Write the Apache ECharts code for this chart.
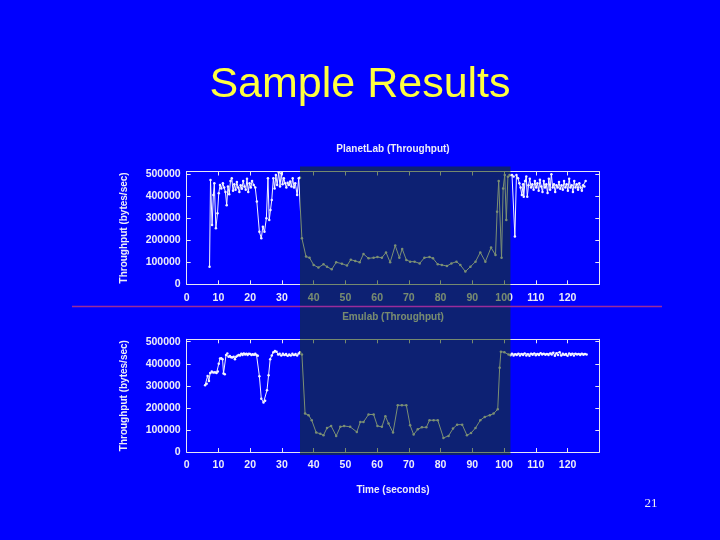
<!DOCTYPE html>
<html>
<head>
<meta charset="utf-8">
<script src="https://cdn.jsdelivr.net/npm/echarts@6/dist/echarts.min.js"></script>
<style>
html,body{margin:0;padding:0;background:#0000ff;}
#main{width:720px;height:540px;}
</style>
</head>
<body>
<div id="main"></div>
<script>
// PlanetLab throughput (time in seconds, bytes/sec)
var planetTime = [7.2,7.5,8.0,8.4,8.7,9.2,9.7,10.1,10.5,10.9,11.4,11.8,12.2,12.6,13.0,13.4,13.8,14.2,14.6,15.0,15.4,15.8,16.2,16.6,17.0,17.4,17.8,18.2,18.6,19.0,19.4,19.8,20.2,20.6,21.1,21.6,22.1,22.9,23.5,24.0,24.5,25.1,25.6,26.0,26.4,26.8,27.3,27.7,28.1,28.5,29.0,29.4,29.8,30.2,30.6,31.0,31.4,31.8,32.2,32.6,33.0,33.4,33.8,34.2,34.8,35.3,35.7,
  36.3,37.6,38.7,40.0,41.5,43.1,44.2,45.7,47.1,48.9,50.5,51.7,53.1,54.5,55.7,57.3,58.9,60.1,61.5,62.8,64.1,65.7,67.0,67.9,69.2,70.4,71.8,73.4,74.9,76.5,77.6,79.1,80.4,82.0,83.4,85.0,86.2,87.8,89.4,91.0,92.5,94.1,95.9,97.3,97.8,98.3,99.2,99.7,100.2,100.7,101.2,101.7,
  102.5,103.0,103.4,103.9,104.4,104.8,105.2,105.6,106.0,106.2,106.6,107.0,107.3,107.7,108.1,108.5,108.9,109.3,109.7,110.1,110.5,110.9,111.3,111.7,112.1,112.5,112.9,113.3,113.7,114.1,114.5,114.9,115.3,115.7,116.1,116.5,116.9,117.3,117.7,118.1,118.5,118.9,119.3,119.7,120.1,120.5,120.9,121.3,121.7,122.1,122.5,122.9,123.3,123.7,124.1,124.5,124.9,125.3,125.7];
var planetThroughput = [80000,474000,270000,406000,459000,255000,323000,414000,452000,436000,459000,440000,420000,360000,445000,410000,470000,482000,425000,455000,430000,465000,440000,420000,450000,435000,470000,445000,430000,480000,420000,460000,440000,470000,452000,440000,376000,239000,209000,262000,239000,300000,482000,292000,338000,383000,482000,436000,497000,452000,509000,445000,505000,455000,482000,460000,440000,462000,452000,468000,445000,482000,440000,460000,406000,482000,485000,
  209000,126000,121000,88000,76000,91000,80000,68000,100000,94000,85000,112000,106000,100000,138000,118000,121000,124000,121000,145000,100000,176000,121000,161000,111000,103000,103000,95000,121000,124000,118000,91000,88000,83000,95000,103000,88000,58000,80000,103000,145000,103000,167000,133000,330000,470000,121000,436000,497000,292000,489000,497000,
  497000,490000,217000,497000,482000,460000,440000,406000,455000,398000,470000,490000,398000,450000,480000,440000,455000,430000,470000,440000,460000,425000,475000,445000,420000,470000,440000,455000,415000,480000,430000,500000,440000,455000,420000,450000,440000,465000,435000,450000,430000,470000,440000,455000,425000,480000,440000,450000,420000,470000,440000,455000,430000,460000,440000,425000,450000,445000,470000];

// Emulab throughput
var emulabTime = [5.8,6.3,6.6,7.0,7.4,7.9,8.4,8.9,9.4,9.8,10.1,10.5,10.9,11.3,11.6,12.0,12.4,12.8,13.2,13.6,14.0,14.4,14.8,15.2,15.6,16.0,16.4,16.8,17.2,17.6,18.0,18.4,18.8,19.2,19.6,20.0,20.4,20.8,21.2,21.6,22.0,22.4,22.9,23.5,24.2,24.7,25.3,25.8,26.3,26.8,27.3,27.8,28.3,28.8,29.3,29.8,30.3,30.8,31.3,31.8,32.3,32.8,33.3,33.8,34.3,34.8,35.3,35.7,
  36.3,37.3,38.4,39.4,40.8,42.1,43.1,44.2,45.5,47.1,48.4,49.6,51.5,53.6,54.7,55.7,57.3,58.9,60.1,61.5,62.6,63.6,65.0,66.5,67.8,69.2,70.4,71.5,72.8,74.1,75.5,76.5,77.8,79.1,80.9,82.5,83.9,85.2,86.8,88.3,89.6,91.0,92.5,93.9,95.5,96.7,98.0,98.6,99.0,100.1,101.4,102.0,
  102.5,103.0,103.5,104.0,104.5,105.0,105.5,106.0,106.5,107.0,107.5,108.0,108.5,109.0,109.5,110.0,110.5,111.0,111.5,112.0,112.5,113.0,113.5,114.0,114.5,115.0,115.5,116.0,116.5,117.0,117.5,118.0,118.5,119.0,119.5,120.0,120.5,121.0,121.5,122.0,122.5,123.0,123.5,124.0,124.5,125.0,125.5,126.0];
var emulabThroughput = [303000,310000,345000,322000,358000,365000,360000,362000,358000,365000,400000,424000,425000,420000,356000,352000,440000,447000,432000,435000,430000,428000,432000,420000,432000,436000,440000,438000,445000,440000,447000,442000,446000,440000,445000,444000,440000,443000,441000,445000,440000,436000,344000,242000,224000,232000,280000,348000,420000,438000,452000,458000,455000,442000,445000,438000,446000,440000,444000,436000,442000,438000,446000,440000,444000,437000,447000,452000,
  442000,174000,167000,144000,88000,83000,76000,109000,118000,73000,114000,118000,114000,91000,136000,136000,170000,170000,118000,114000,162000,129000,88000,212000,212000,212000,121000,79000,103000,112000,112000,144000,144000,144000,64000,73000,106000,124000,124000,76000,86000,109000,144000,159000,167000,174000,194000,382000,455000,452000,442000,439000,
  445000,438000,443000,440000,446000,437000,444000,440000,447000,438000,443000,436000,445000,441000,447000,439000,444000,440000,448000,442000,446000,441000,444000,440000,447000,442000,450000,436000,448000,440000,452000,438000,446000,441000,444000,436000,447000,440000,445000,438000,446000,442000,444000,440000,446000,441000,444000,442000];

var xTicks = [0,10,20,30,40,50,60,70,80,90,100,110,120];
var yTicks = [0,100000,200000,300000,400000,500000];
var shadedRange = [35.7, 102.0];

var axisColor = '#e6e6f4';
var textColor = '#ececf8';
var labelFont = {color:textColor, fontSize:10.5, fontWeight:'bold', fontFamily:'Liberation Sans, Arial, sans-serif'};

function pairs(t, v){
  return t.map(function(x,i){ return [x, v[i]]; });
}

function xAxisFor(grid, top){
  return {
    type:'value', gridIndex:grid, position: top ? 'top' : 'bottom',
    min:0, max:130, interval:10,
    axisLine:{show:true, onZero:false, lineStyle:{color:axisColor, width:1}},
    axisTick:{show:true, inside:true, length:4, lineStyle:{color:axisColor}},
    axisLabel: top ? {show:false} : Object.assign({margin:8, showMaxLabel:false,
      formatter:function(v){ return xTicks.indexOf(v) >= 0 ? String(v) : ''; }}, labelFont),
    splitLine:{show:false}
  };
}

function yAxisFor(grid, right, maxV){
  var ax = {
    type:'value', gridIndex:grid, position: right ? 'right' : 'left',
    min:0, max:maxV, interval:100000,
    axisLine:{show:true, onZero:false, lineStyle:{color:axisColor, width:1}},
    axisTick:{show:true, inside:true, length:4, lineStyle:{color:axisColor}},
    axisLabel: right ? {show:false} : Object.assign({margin:6, showMaxLabel:false,
      formatter:function(v){ return yTicks.indexOf(v) >= 0 ? String(v) : ''; }}, labelFont),
    splitLine:{show:false}
  };
  if(!right){
    ax.name = 'Throughput (bytes/sec)';
    ax.nameLocation = 'middle';
    ax.nameRotate = 90;
    ax.nameGap = 57;
    ax.nameTextStyle = {color:textColor, fontSize:10, fontWeight:'bold', fontFamily:'Liberation Sans, Arial, sans-serif'};
  }
  return ax;
}

function lineSeries(xi, yi, data){
  return {
    type:'line', xAxisIndex:xi, yAxisIndex:yi, data:data,
    symbol:'circle', symbolSize:2.5, showSymbol:true,
    lineStyle:{color:'#f4f4ff', width:1},
    itemStyle:{color:'#f4f4ff'},
    z:3
  };
}

var myChart = echarts.init(document.getElementById('main'));
myChart.setOption({
  backgroundColor:'#0000ff',
  animation:false,
  grid:[
    {left:186.7, top:171.5, width:412.6, height:112.8},
    {left:186.7, top:339.3, width:412.6, height:112.7}
  ],
  xAxis:[xAxisFor(0,false), xAxisFor(0,true), xAxisFor(1,false), xAxisFor(1,true)],
  yAxis:[yAxisFor(0,false,513000), yAxisFor(0,true,513000), yAxisFor(1,false,511000), yAxisFor(1,true,511000)],
  series:[
    lineSeries(0,0,pairs(planetTime, planetThroughput)),
    lineSeries(2,2,pairs(emulabTime, emulabThroughput))
  ]
});

// shaded interval and slide decorations
var x0 = myChart.convertToPixel({xAxisIndex:0}, shadedRange[0]);
var x1 = myChart.convertToPixel({xAxisIndex:0}, shadedRange[1]);
var yTop = myChart.convertToPixel({yAxisIndex:0}, 513000) - 5;
var yBot = myChart.convertToPixel({yAxisIndex:2}, 0) + 3;
var font = 'Liberation Sans, Arial, sans-serif';

myChart.setOption({
  graphic:[
    {type:'text', left:null, x:360, y:107, z:10,
      style:{text:'Sample Results', fill:'#ffff40', font:'43px '+font, textAlign:'center', textVerticalAlign:'bottom'}},
    {type:'text', x:393, y:149, z:10,
      style:{text:'PlanetLab (Throughput)', fill:textColor, font:'bold 10px '+font, textAlign:'center', textVerticalAlign:'middle'}},
    {type:'text', x:393, y:317, z:10,
      style:{text:'Emulab (Throughput)', fill:textColor, font:'bold 10px '+font, textAlign:'center', textVerticalAlign:'middle'}},
    {type:'text', x:393, y:490, z:10,
      style:{text:'Time (seconds)', fill:textColor, font:'bold 10px '+font, textAlign:'center', textVerticalAlign:'middle'}},
    {type:'text', x:651, y:504, z:10,
      style:{text:'21', fill:'#f0f0f0', font:'13px Liberation Serif, Times New Roman, serif', textAlign:'center', textVerticalAlign:'middle'}},
    {type:'rect', z:50, silent:true,
      shape:{x:x0, y:yTop, width:x1-x0, height:yBot-yTop},
      style:{fill:'rgba(24,60,0,0.55)'}},
    {type:'line', z:60, silent:true,
      shape:{x1:72, y1:306.5, x2:662, y2:306.5},
      style:{stroke:'#9a2c9a', lineWidth:1.5}}
  ]
});
</script>
</body>
</html>
